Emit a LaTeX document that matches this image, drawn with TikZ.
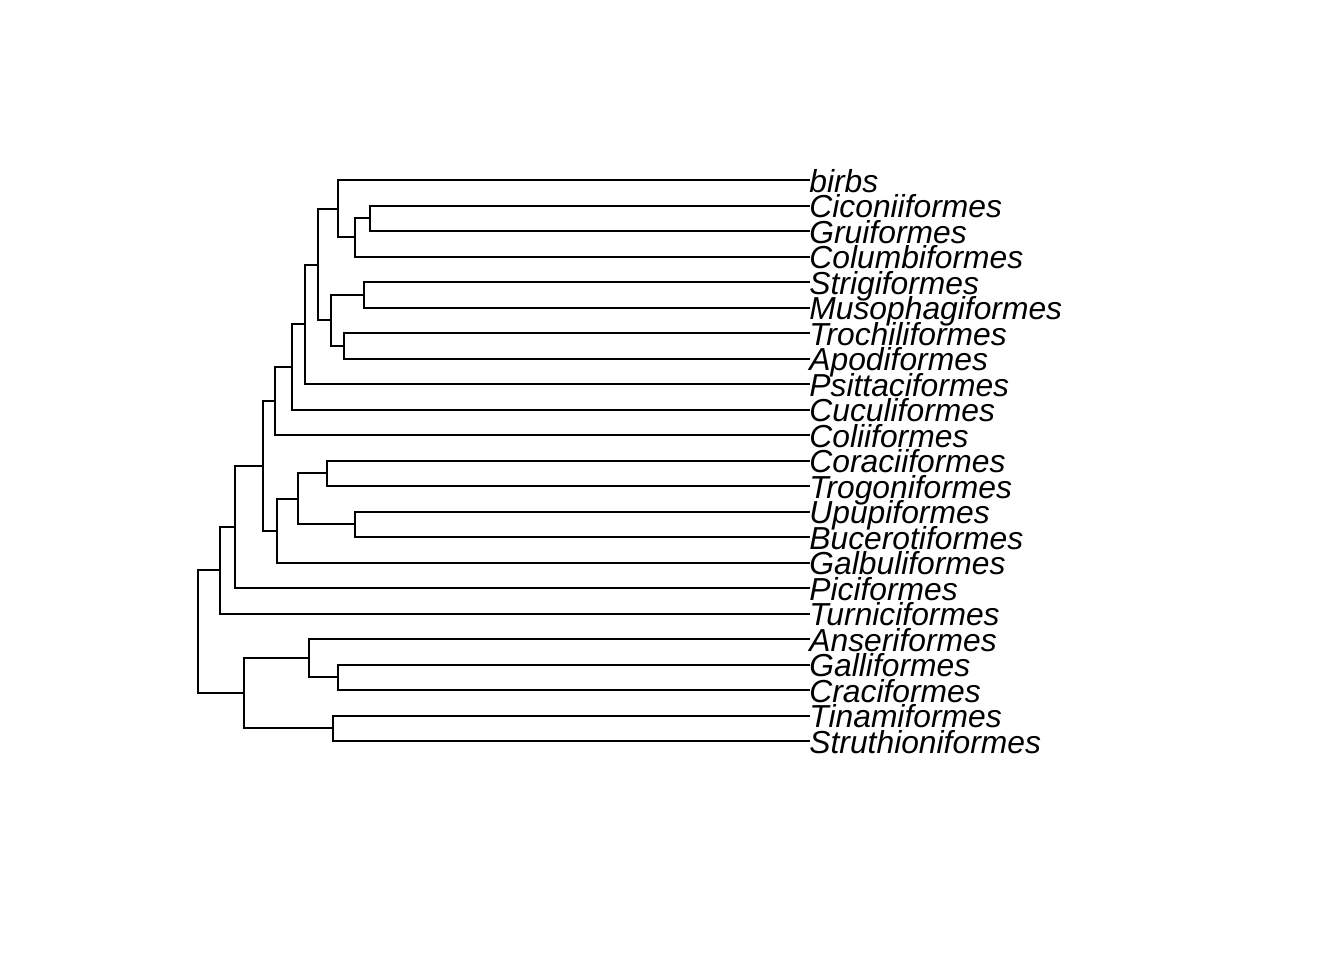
\documentclass[tikz,border=0pt]{standalone}
\usepackage{fontspec}
\newfontfamily\treefont{Liberation Sans}
\usepackage{tikz}
\usetikzlibrary{positioning,calc}

\tikzset{
  edge/.style={line width=1pt,line cap=rect},
  tip/.style={inner sep=0pt,anchor=west,text height=12pt,text depth=0pt,
    font=\treefont\itshape\fontsize{15.9pt}{18pt}\selectfont}
}

\begin{document}
\begin{tikzpicture}[x=0.5pt,y=-0.5pt]
  \useasboundingbox (0,0) rectangle (1344,960);
  % tips
  \node[tip] (birbs) at (809,180) {birbs};
  \node[tip] (cico) at (809,205.5) {Ciconiiformes};
  \node[tip] (grui) at (809,231) {Gruiformes};
  \node[tip] (colu) at (809,256.5) {Columbiformes};
  \node[tip] (stri) at (809,282) {Strigiformes};
  \node[tip] (muso) at (809,307.5) {Musophagiformes};
  \node[tip] (troc) at (809,333) {Trochiliformes};
  \node[tip] (apod) at (809,358.5) {Apodiformes};
  \node[tip] (psit) at (809,384) {Psittaciformes};
  \node[tip] (cucu) at (809,409.5) {Cuculiformes};
  \node[tip] (coli) at (809,435) {Coliiformes};
  \node[tip] (cora) at (809,460.5) {Coraciiformes};
  \node[tip] (trog) at (809,486) {Trogoniformes};
  \node[tip] (upup) at (809,511.5) {Upupiformes};
  \node[tip] (buce) at (809,537) {Bucerotiformes};
  \node[tip] (galb) at (809,562.5) {Galbuliformes};
  \node[tip] (pici) at (809,588) {Piciformes};
  \node[tip] (turn) at (809,613.5) {Turniciformes};
  \node[tip] (anse) at (809,639) {Anseriformes};
  \node[tip] (gall) at (809,664.5) {Galliformes};
  \node[tip] (crac) at (809,690) {Craciformes};
  \node[tip] (tina) at (809,715.5) {Tinamiformes};
  \node[tip] (stru) at (809,741) {Struthioniformes};
  % inner nodes
  \coordinate (cicgru) at (370.3,218.25);
  \coordinate (cgcol) at (355,237.4);
  \coordinate (birbsN) at (337.7,208.7);
  \coordinate (strmus) at (364,294.75);
  \coordinate (troapo) at (344.3,345.75);
  \coordinate (owlswift) at (331.3,320.25);
  \coordinate (upper) at (318,264.5);
  \coordinate (psitN) at (305,324.2);
  \coordinate (cucuN) at (291.7,366.9);
  \coordinate (coliN) at (274.7,400.9);
  \coordinate (cortro) at (326.7,473.25);
  \coordinate (upubuc) at (355,524.25);
  \coordinate (corupu) at (298.3,498.75);
  \coordinate (galbN) at (276.7,530.6);
  \coordinate (coreN) at (263.3,465.8);
  \coordinate (piciN) at (235.3,526.9);
  \coordinate (turnN) at (220,570.2);
  \coordinate (galcra) at (337.7,677.25);
  \coordinate (anseN) at (309.3,658.1);
  \coordinate (tinstr) at (333.3,728.25);
  \coordinate (palaeo) at (244,693.2);
  \coordinate (root) at (198,631.7);
  % edges
  \draw[edge] (cicgru) |- (cico.west) (cicgru) |- (grui.west);
  \draw[edge] (cgcol) |- (cicgru) (cgcol) |- (colu.west);
  \draw[edge] (birbsN) |- (birbs.west) (birbsN) |- (cgcol);
  \draw[edge] (strmus) |- (stri.west) (strmus) |- (muso.west);
  \draw[edge] (troapo) |- (troc.west) (troapo) |- (apod.west);
  \draw[edge] (owlswift) |- (strmus) (owlswift) |- (troapo);
  \draw[edge] (upper) |- (birbsN) (upper) |- (owlswift);
  \draw[edge] (psitN) |- (upper) (psitN) |- (psit.west);
  \draw[edge] (cucuN) |- (psitN) (cucuN) |- (cucu.west);
  \draw[edge] (coliN) |- (cucuN) (coliN) |- (coli.west);
  \draw[edge] (cortro) |- (cora.west) (cortro) |- (trog.west);
  \draw[edge] (upubuc) |- (upup.west) (upubuc) |- (buce.west);
  \draw[edge] (corupu) |- (cortro) (corupu) |- (upubuc);
  \draw[edge] (galbN) |- (corupu) (galbN) |- (galb.west);
  \draw[edge] (coreN) |- (coliN) (coreN) |- (galbN);
  \draw[edge] (piciN) |- (coreN) (piciN) |- (pici.west);
  \draw[edge] (turnN) |- (piciN) (turnN) |- (turn.west);
  \draw[edge] (galcra) |- (gall.west) (galcra) |- (crac.west);
  \draw[edge] (anseN) |- (anse.west) (anseN) |- (galcra);
  \draw[edge] (tinstr) |- (tina.west) (tinstr) |- (stru.west);
  \draw[edge] (palaeo) |- (anseN) (palaeo) |- (tinstr);
  \draw[edge] (root) |- (turnN) (root) |- (palaeo);
\end{tikzpicture}
\end{document}
